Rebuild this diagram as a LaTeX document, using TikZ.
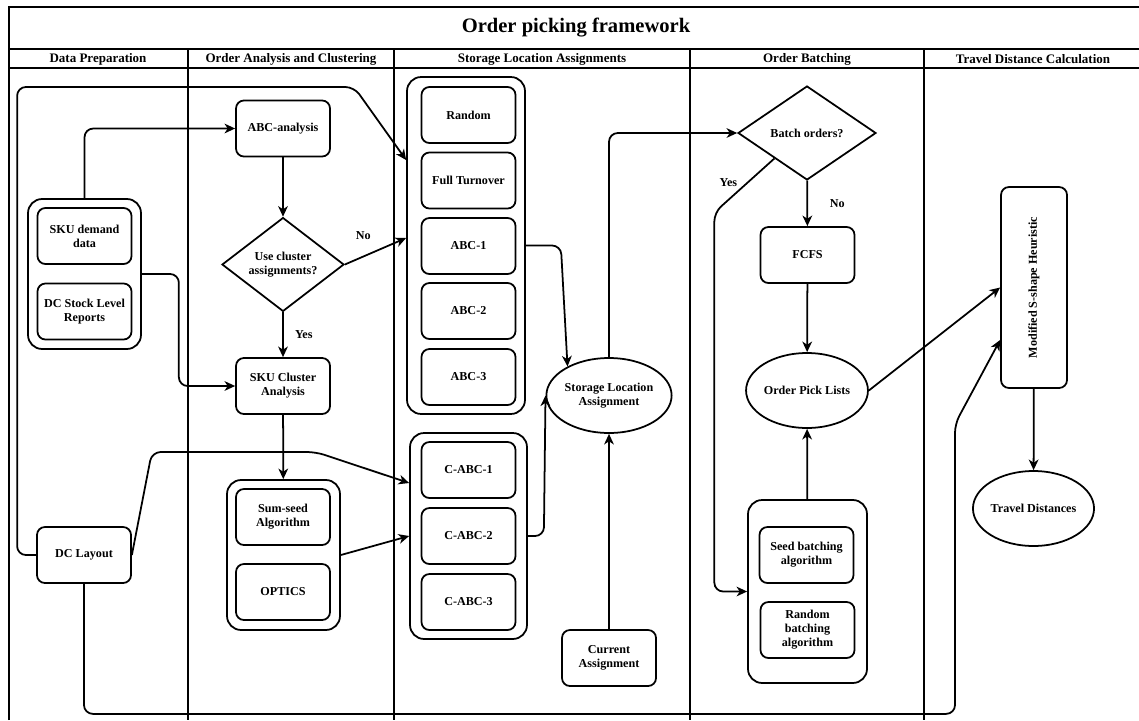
\documentclass[tikz,border=0pt]{standalone}
\usepackage{fontspec}
\setmainfont{Liberation Serif}
\usetikzlibrary{shapes.geometric,arrows.meta}

\begin{document}
\begin{tikzpicture}[x=0.02cm,y=-0.02cm,line width=1pt]
	\useasboundingbox (0,0) rectangle (1139,720);
	\tikzset{every node/.style={font=\bfseries\fontsize{6.9}{8}\selectfont, align=center},
		box/.style={draw, rounded corners=4.5pt, minimum width=1.88cm, minimum height=1.12cm, inner sep=1pt},
		grp/.style={draw, rounded corners=8pt, inner sep=0pt},
		dec/.style={draw, diamond, inner sep=0pt},
		oval/.style={draw, ellipse, minimum width=2.28cm, minimum height=1.5cm, inner sep=0pt},
		lane/.style={font=\bfseries\fontsize{7.4}{9}\selectfont},
		arr/.style={-{Stealth[length=6pt,width=5.5pt,inset=1.8pt]}, rounded corners=5pt}}
	% lanes
	\draw (9,720) -- (9,7) -- (1139,7);
	\draw (9,49) -- (1139,49);
	\draw (9,68) -- (1139,68);
	\foreach \x in {188,394,690,924}
		\draw (\x,49) -- (\x,720);
	\node[font=\bfseries\fontsize{11.7}{14}\selectfont] (title) at (576,28) {Order picking framework};
	\node[lane] (hdata) at (98,59) {Data Preparation};
	\node[lane] (hclus) at (291,59) {Order Analysis and Clustering};
	\node[lane] (hsla) at (542,59) {Storage Location Assignments};
	\node[lane] (hbatch) at (807,59) {Order Batching};
	\node[lane] (htravel) at (1033,59) {Travel Distance Calculation};
	% data preparation
	\node[grp, minimum width=2.26cm, minimum height=3cm] (dpgrp) at (84.5,274) {};
	\node[box] (sku) at (84.5,236) {SKU demand\\data};
	\node[box] (stock) at (84.5,311.5) {DC Stock Level\\Reports};
	\node[box] (layout) at (84,555) {DC Layout};
	% analysis and clustering
	\node[box] (abc) at (283,128.5) {ABC-analysis};
	\node[dec, minimum width=2.44cm, minimum height=1.46cm] (usecl) at (283,264.5) {Use cluster\\assignments?};
	\node[box] (skucl) at (283,386) {SKU Cluster\\Analysis};
	\node[grp, minimum width=2.26cm, minimum height=3cm] (clgrp) at (283.5,555) {};
	\node[box] (sumseed) at (283,517) {Sum-seed\\Algorithm};
	\node[box] (optics) at (283,592) {OPTICS};
	% storage location assignments
	\node[grp, minimum width=2.36cm, minimum height=6.74cm] (slagrp) at (466,245.5) {};
	\node[box] (random) at (468.5,115) {Random};
	\node[box] (fullto) at (468.5,180.5) {Full Turnover};
	\node[box] (abc1) at (468.5,246) {ABC-1};
	\node[box] (abc2) at (468.5,311) {ABC-2};
	\node[box] (abc3) at (468.5,377) {ABC-3};
	\node[grp, minimum width=2.34cm, minimum height=4.12cm] (cgrp) at (468.5,536) {};
	\node[box] (cabc1) at (468.5,470) {C-ABC-1};
	\node[box] (cabc2) at (468.5,536) {C-ABC-2};
	\node[box] (cabc3) at (468.5,602) {C-ABC-3};
	\node[oval] (sla) at (609,395.5) {Storage Location\\Assignment};
	\node[box] (current) at (609,658) {Current\\Assignment};
	% order batching
	\node[dec, minimum width=2.76cm, minimum height=1.88cm] (batch) at (807,133) {Batch orders?};
	\node[box] (fcfs) at (807.5,255) {FCFS};
	\node[oval] (opl) at (807,390.5) {Order Pick Lists};
	\node[grp, minimum width=2.38cm, minimum height=3.66cm] (bgrp) at (807.5,591.5) {};
	\node[box] (seedb) at (806.5,555) {Seed batching\\algorithm};
	\node[box] (randb) at (807.5,630) {Random\\batching\\algorithm};
	% travel distance
	\node[box, minimum width=1.32cm, minimum height=4.02cm] (mod) at (1034,287.5) {\rotatebox{90}{Modified S-shape Heuristic}};
	\node[oval, minimum width=2.26cm] (td) at (1033.5,508.5) {Travel Distances};
	% connectors
	\draw[arr] (dpgrp.north) |- (abc.west);
	\draw[arr] (abc) -- (usecl);
	\draw[arr] (usecl.east) -- node[pos=0.3, above=6pt]{No} ([yshift=0.15cm]slagrp.west);
	\draw[arr] (usecl) -- node[right=3pt]{Yes} (skucl);
	\draw[arr] (dpgrp.east) -- ++(37,0) |- (skucl.west);
	\draw[arr] (skucl) -- (clgrp);
	\draw[arr] (layout.west) -- ++(-19,0) -- ++(0,-468) -- ++(337,0) -- ([yshift=1.71cm]slagrp.west);
	\draw[arr] (layout.east) -- ++(20,-103) -- ++(164,0) -- ([yshift=1.06cm]cgrp.west);
	\draw[arr] (clgrp.east) -- (cgrp.west);
	\draw[arr] (layout.south) -- ++(0,130) -- ++(871,0) -- ++(0,-290) -- ([yshift=-1.05cm]mod.west);
	\draw[arr] (slagrp.east) -- ++(35,0) -- (sla.145);
	\draw[arr] (cgrp.east) -- ++(16,0) -- (sla.west);
	\draw[arr] (current) -- (sla);
	\draw[arr] (sla.north) |- (batch.west);
	\draw[arr] (batch.218) -- node[pos=0.45, left=2pt]{Yes} ++(-60,54) |- (bgrp.west);
	\draw[arr] (batch) -- node[right=9pt]{No} (fcfs);
	\draw[arr] (fcfs) -- (opl);
	\draw[arr] (bgrp) -- (opl);
	\draw[arr] (opl.east) -- (mod.west);
	\draw[arr] (mod) -- (td);
\end{tikzpicture}
\end{document}
